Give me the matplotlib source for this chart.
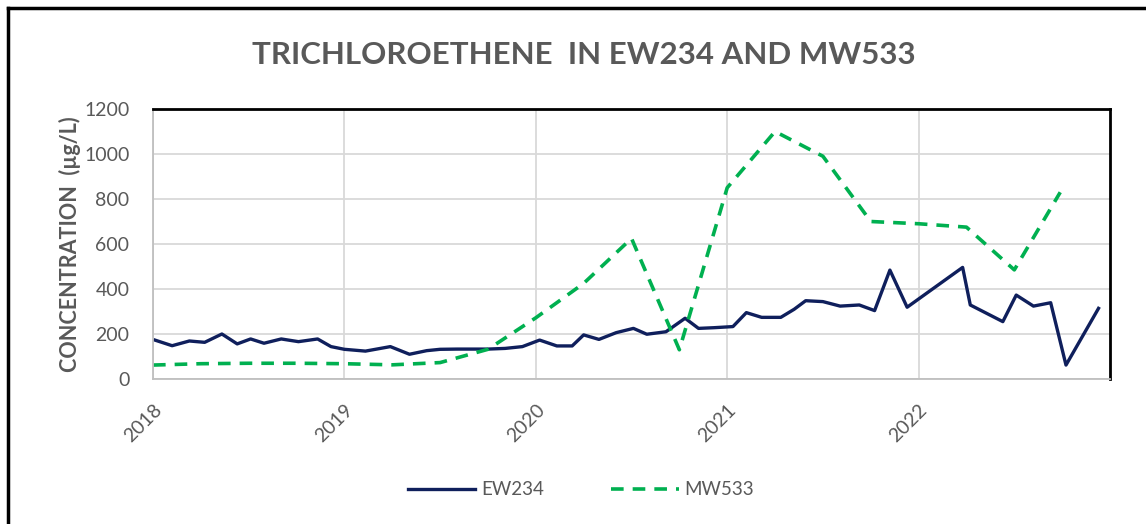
import matplotlib.pyplot as plt
from matplotlib.lines import Line2D

plt.rcParams['font.family'] = ['Lato', 'DejaVu Sans']

# sample dates as decimal years
ew234_t = [2018.01, 2018.10, 2018.19, 2018.27, 2018.36, 2018.44, 2018.51, 2018.58,
           2018.67, 2018.76, 2018.86, 2018.93, 2019.00, 2019.11, 2019.24, 2019.34,
           2019.43, 2019.50, 2019.59, 2019.67, 2019.75, 2019.84, 2019.93, 2020.02,
           2020.11, 2020.19, 2020.25, 2020.33, 2020.42, 2020.51, 2020.58, 2020.68,
           2020.78, 2020.85, 2020.93, 2021.03, 2021.10, 2021.18, 2021.28, 2021.35,
           2021.41, 2021.50, 2021.59, 2021.69, 2021.77, 2021.85, 2021.94, 2022.23,
           2022.27, 2022.44, 2022.51, 2022.60, 2022.69, 2022.77, 2022.94]
ew234_v = [173, 148, 169, 163, 200, 156, 178, 159,
           178, 166, 178, 144, 132, 124, 144, 110,
           126, 132, 133, 133, 133, 136, 144, 173,
           147, 147, 196, 176, 206, 225, 199, 210,
           270, 225, 228, 233, 295, 274, 274, 310,
           348, 344, 324, 329, 304, 484, 319, 496,
           329, 255, 373, 324, 339, 62, 314]

mw533_t = [2018.0, 2018.25, 2018.5, 2018.75, 2019.0, 2019.25, 2019.5, 2019.75,
           2020.0, 2020.25, 2020.5, 2020.75, 2021.0, 2021.25, 2021.5, 2021.75,
           2022.0, 2022.25, 2022.5, 2022.74]
mw533_v = [62, 68, 70, 70, 68, 63, 73, 132,
           272, 425, 625, 130, 850, 1100, 990, 700,
           690, 675, 485, 830]

years = [2018, 2019, 2020, 2021, 2022]
gray_txt = '#595959'

fig = plt.figure(figsize=(11.46, 5.24), dpi=100)
ax = fig.add_axes([0.1335, 0.2767, 0.8351, 0.5153])

ax.plot(ew234_t, ew234_v, color='#0f1f5c', lw=2.4, label='EW234')
ax.plot(mw533_t, mw533_v, color='#00b050', lw=2.6, ls=(0, (3.5, 2.5)), label='MW533')

ax.set_xlim(2018, 2023)
ax.set_ylim(0, 1200)
ax.set_yticks(range(0, 1201, 200))
ax.set_xticks(years)
ax.set_xticklabels([str(y) for y in years], rotation=45, ha='right', va='top',
                   rotation_mode='anchor')
ax.tick_params(length=0, labelsize=14, labelcolor=gray_txt)
ax.tick_params(axis='y', pad=17)
ax.tick_params(axis='x', pad=16)
ax.grid(color='#d9d9d9', lw=1.3)
ax.set_axisbelow(True)

for s in ['left', 'bottom']:
    ax.spines[s].set_color('#bfbfbf')
    ax.spines[s].set_linewidth(1.3)
for s in ['top', 'right']:
    ax.spines[s].set_color('black')
    ax.spines[s].set_linewidth(2)

ax.set_ylabel('CONCENTRATION  (µg/L)', fontsize=15.5, fontweight='bold',
              color=gray_txt, labelpad=2)
fig.text(0.509, 0.895, 'TRICHLOROETHENE  IN EW234 AND MW533', ha='center', va='center',
         fontsize=22.5, fontweight='bold', color=gray_txt)

fig.legend(loc='center', bbox_to_anchor=(0.507, 0.065), ncol=2, frameon=False,
           fontsize=13.5, labelcolor=gray_txt, handlelength=3.6, columnspacing=3.6,
           handletextpad=0.3)

# outer chart border (top and left edges show in the source)
fig.add_artist(Line2D([0.007, 1], [0.985, 0.985], color='black', lw=2.5,
                      transform=fig.transFigure))
fig.add_artist(Line2D([0.007, 0.007], [0, 0.985], color='black', lw=2.5,
                      transform=fig.transFigure))

fig.savefig('out.png', dpi=100)
